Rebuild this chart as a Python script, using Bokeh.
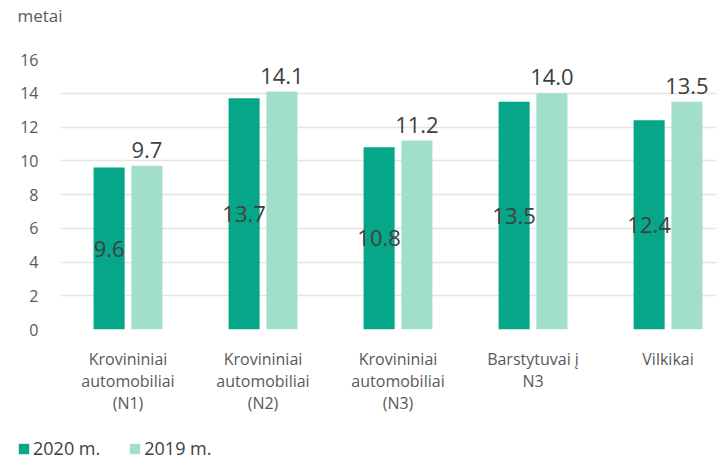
from bokeh.plotting import figure
from bokeh.layouts import column
from bokeh.models import FixedTicker, ColumnDataSource, Legend, LegendItem, Label
from bokeh.core.properties import value
from bokeh.embed import file_html
from bokeh.resources import INLINE

categories = ["Krovininiai\nautomobiliai\n(N1)", "Krovininiai\nautomobiliai\n(N2)",
              "Krovininiai\nautomobiliai\n(N3)", "Barstytuvai į\nN3", "Vilkikai"]
values_2020 = [9.6, 13.7, 10.8, 13.5, 12.4]
values_2019 = [9.7, 14.1, 11.2, 14.0, 13.5]
y_ticks = [0, 2, 4, 6, 8, 10, 12, 14, 16]
series_names = ["2020 m.", "2019 m."]
unit_label = "metai"

FONT = "Open Sans"
C2020 = "#06A688"
C2019 = "#A1DFCB"

idx = list(range(len(categories)))
off = 0.14
bw = 0.23

src = ColumnDataSource(dict(
    x20=[i - off for i in idx], x19=[i + off for i in idx],
    v20=values_2020, v19=values_2019,
    m20=[v / 2 for v in values_2020],
    t20=[f"{v:.1f}" for v in values_2020], t19=[f"{v:.1f}" for v in values_2019],
))


def strip(h):
    s = figure(width=716, height=h, output_backend="svg", toolbar_location=None,
               x_range=(0, 716), y_range=(0, h), min_border=0,
               x_axis_location=None, y_axis_location=None)
    s.grid.visible = False
    s.outline_line_color = None
    s.frame_align = False
    return s


# top strip with unit label
t = strip(30)
t.add_layout(Label(x=17, y=15, text=unit_label, text_font=FONT, text_font_size="17px",
                   text_color="#595959", text_baseline="middle"))

# main chart
p = figure(width=716, height=400, output_backend="svg", toolbar_location=None,
           x_range=(-0.5, 4.359), y_range=(0, 16),
           min_border_left=60, min_border_right=0, min_border_top=29, min_border_bottom=101)
p.outline_line_color = None
p.background_fill_color = "white"
p.frame_align = False

p.vbar(x="x20", top="v20", width=bw, source=src, color=C2020, line_color=None)
p.vbar(x="x19", top="v19", width=bw, source=src, color=C2019, line_color=None)

p.text(x="x20", y="m20", text="t20", source=src, text_align="center", text_baseline="middle",
       text_font=value(FONT), text_font_size="22px", text_color="#404040")
p.text(x="x19", y="v19", text="t19", source=src, text_align="center", text_baseline="bottom",
       y_offset=-8, text_font=value(FONT), text_font_size="22px", text_color="#404040")

p.xgrid.visible = False
p.ygrid.grid_line_color = "#E4E4E4"
p.ygrid.grid_line_width = 1.5
p.yaxis.ticker = FixedTicker(ticks=y_ticks)
p.xaxis.ticker = FixedTicker(ticks=idx)
p.xaxis.major_label_overrides = {i: c for i, c in zip(idx, categories)}

for ax in (p.xaxis, p.yaxis):
    ax.axis_line_color = None
    ax.major_tick_line_color = None
    ax.minor_tick_line_color = None
    ax.major_label_text_font = FONT
    ax.major_label_text_color = "#595959"
p.yaxis.major_label_text_font_size = "16px"
p.yaxis.major_label_standoff = 16
p.xaxis.major_label_text_font_size = "16px"
p.xaxis.major_label_standoff = 12
p.xaxis.major_label_text_line_height = 1.0

# legend strip
q = strip(30)
d20 = q.vbar(x=[-50], top=[0], width=1, color=C2020, line_color=None)
d19 = q.vbar(x=[-50], top=[0], width=1, color=C2019, line_color=None)
lg = Legend(items=[LegendItem(label=series_names[0], renderers=[d20]),
                   LegendItem(label=series_names[1], renderers=[d19])])
lg.orientation = "horizontal"
lg.location = (17, 0)
lg.padding = 0
lg.margin = 0
lg.border_line_color = None
lg.background_fill_alpha = 0
lg.glyph_width = 13
lg.glyph_height = 13
lg.label_standoff = 3
lg.spacing = 28
lg.label_text_font = FONT
lg.label_text_font_size = "18px"
lg.label_text_color = "#404040"
q.add_layout(lg, "center")

open("out.html", "w").write(file_html(column(t, p, q, spacing=0), INLINE))
